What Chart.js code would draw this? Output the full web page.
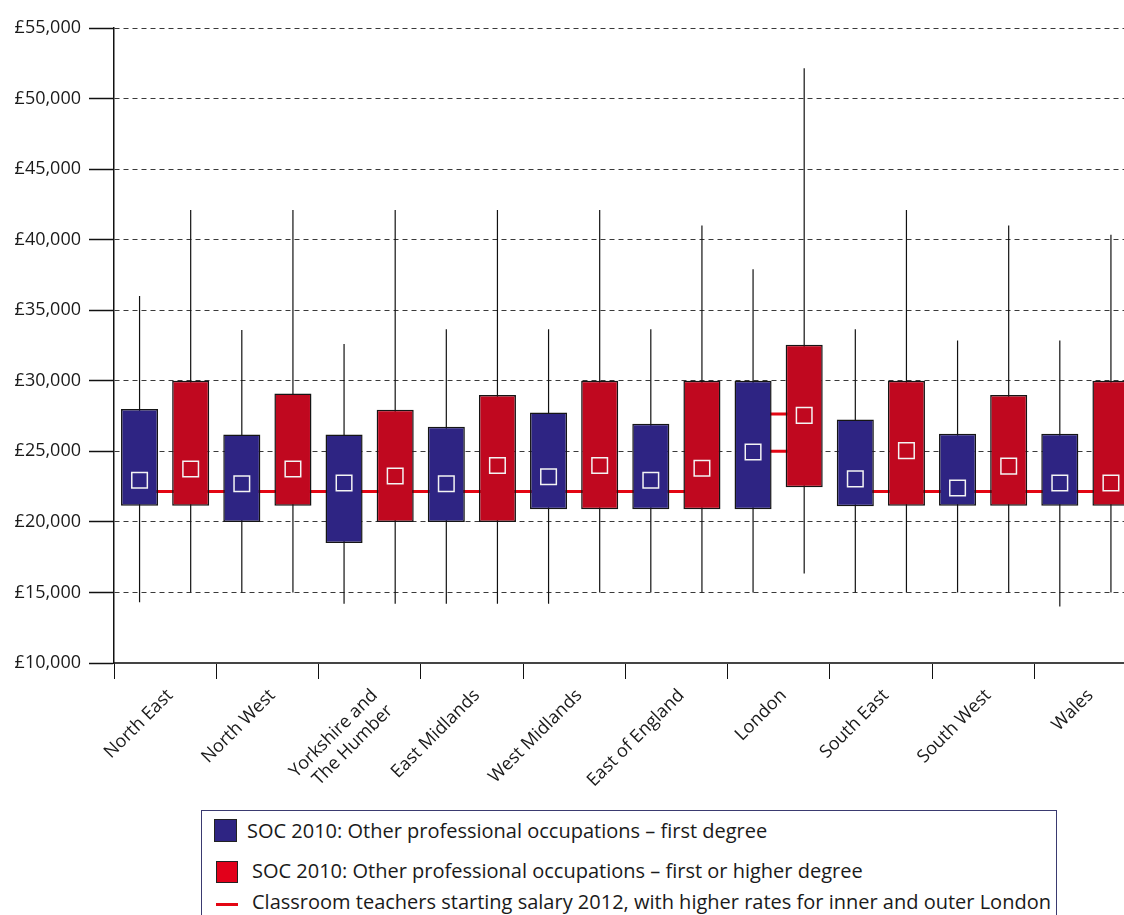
<!DOCTYPE html>
<html lang="en">
<head>
    <meta charset="UTF-8">
    <title>Salaries by region</title>
    <script src="https://cdn.jsdelivr.net/npm/chart.js@4"></script>
    <style>
        html, body { margin: 0; padding: 0; width: 1124px; height: 915px; overflow: hidden; background: #fff; }
        body { font-family: "Open Sans", sans-serif; color: #1a1a1a; position: relative; }
        #wrap { position: absolute; left: 0; top: 0; width: 1149px; height: 805px; }
        #legend { position: absolute; left: 201px; top: 810px; width: 856px; height: 140px; border: 1px solid #3a3a70; box-sizing: border-box; }
        #legend .sw { position: absolute; box-sizing: border-box; border: 1px solid #222; }
        #legend .txt { position: absolute; font-size: 20px; line-height: 26px; white-space: nowrap; }
        #legend .dash { position: absolute; height: 3px; }
    </style>
</head>
<body>
    <div id="wrap"><canvas id="chart" width="1149" height="805"></canvas></div>

    <div id="legend">
        <div class="sw" style="left:12px; top:8px; width:23px; height:23px; background:#2e2483;"></div>
        <div class="txt" style="left:45px; top:7px;">SOC 2010: Other professional occupations – first degree</div>
        <div class="sw" style="left:14px; top:50px; width:22px; height:22px; background:#e2001a;"></div>
        <div class="txt" style="left:50px; top:47px;">SOC 2010: Other professional occupations – first or higher degree</div>
        <div class="dash" style="left:14px; top:92px; width:22px; background:#e30613;"></div>
        <div class="txt" style="left:50px; top:78px;">Classroom teachers starting salary 2012, with higher rates for inner and outer London</div>
    </div>

    <script>
        // categories
        const regions = ['North East', 'North West', ['Yorkshire and', 'The Humber'], 'East Midlands',
            'West Midlands', 'East of England', 'London', 'South East', 'South West', 'Wales'];

        // first degree (blue)
        const blueMin  = [14300, 15000, 14200, 14200, 14200, 15000, 15000, 15000, 15000, 14000];
        const blueQ1   = [21150, 20000, 18500, 20000, 20900, 20900, 20900, 21100, 21150, 21150];
        const blueQ3   = [28000, 26200, 26200, 26750, 27750, 26950, 30000, 27250, 26250, 26250];
        const blueMax  = [36000, 33600, 32600, 33650, 33650, 33650, 37900, 33650, 32850, 32850];
        const blueMean = [22950, 22700, 22750, 22700, 23200, 22950, 24950, 23050, 22400, 22750];

        // first or higher degree (red)
        const redMin  = [15000, 15000, 14200, 14200, 15000, 15000, 16350, 15000, 15000, 15000];
        const redQ1   = [21150, 21150, 20000, 20000, 20900, 20900, 22450, 21150, 21150, 21150];
        const redQ3   = [30000, 29100, 27950, 29000, 30000, 30000, 32550, 30000, 29000, 30000];
        const redMax  = [42100, 42100, 42100, 42100, 42100, 41000, 52150, 42100, 41000, 40350];
        const redMean = [23750, 23750, 23250, 24000, 24000, 23800, 27550, 25050, 23950, 22750];

        // teachers starting salary 2012
        const teacherSalary      = [22150, 22150, 22150, 22150, 22150, 22150, null, 22150, 22150, 22150];
        const teacherOuterLondon = [null, null, null, null, null, null, 25000, null, null, null];
        const teacherInnerLondon = [null, null, null, null, null, null, 27650, null, null, null];

        // y axis ticks
        const yMin = 10000, yMax = 55000, yStep = 5000;

        const BLUE = '#2e2483';
        const RED = '#c0081f';
        const LINE_RED = '#e30613';
        const FONT = { family: '"Open Sans", sans-serif', size: 18 };

        // two boxes per category: blue in the left half, red in the right half
        const SLOT = { blue: -0.25, red: 0.25 };

        const boxPoints = (lo, hi, slot) => lo.map((v, i) => ({ x: i + SLOT[slot], y: [v, hi[i]] }));
        const slotPoints = (vals, slot) => vals.map((v, i) => ({ x: i + SLOT[slot], y: v }));
        const spanPoints = vals => vals.flatMap((v, i) => [{ x: i + SLOT.blue, y: v }, { x: i + SLOT.red, y: v }]);
        // vertical segment per category, broken by a null point
        const whiskerPoints = (lo, hi, slot) => lo.flatMap((v, i) => {
            const x = i + SLOT[slot];
            return [{ x: x, y: v }, { x: x, y: hi[i] }, { x: x, y: null }];
        });

        const whisker = (lo, hi, slot) => ({
            type: 'line', xAxisID: 'xt', data: whiskerPoints(lo, hi, slot),
            borderColor: '#111', borderWidth: 1.2, pointRadius: 0, spanGaps: false, order: 4
        });
        const box = (lo, hi, slot, color) => ({
            type: 'bar', xAxisID: 'xt', data: boxPoints(lo, hi, slot), grouped: false,
            backgroundColor: color, borderColor: '#151515', borderWidth: 1.5, borderSkipped: false,
            barPercentage: 0.725, categoryPercentage: 1, order: 2
        });
        const teacher = vals => ({
            type: 'line', xAxisID: 'xt', data: spanPoints(vals),
            borderColor: LINE_RED, borderWidth: 3, pointRadius: 0, spanGaps: false, order: 3
        });
        const mean = (vals, slot) => ({
            type: 'line', xAxisID: 'xt', data: slotPoints(vals, slot), showLine: false,
            pointStyle: 'rect', pointRadius: 11, pointBorderWidth: 1.5,
            pointBorderColor: '#f4f4f4', pointBackgroundColor: 'transparent', order: 1
        });

        Chart.defaults.font.family = FONT.family;

        new Chart(document.getElementById('chart').getContext('2d'), {
            data: {
                labels: regions,
                datasets: [
                    box(blueQ1, blueQ3, 'blue', BLUE),
                    box(redQ1, redQ3, 'red', RED),
                    whisker(blueMin, blueMax, 'blue'),
                    whisker(redMin, redMax, 'red'),
                    teacher(teacherSalary),
                    teacher(teacherOuterLondon),
                    teacher(teacherInnerLondon),
                    mean(blueMean, 'blue'),
                    mean(redMean, 'red')
                ]
            },
            options: {
                responsive: false,
                animation: false,
                layout: { padding: { top: 28, right: 0, bottom: 0, left: 0 } },
                plugins: { legend: { display: false }, tooltip: { enabled: false } },
                scales: {
                    x: {
                        type: 'category', offset: true,
                        grid: { offset: true, drawOnChartArea: false, drawTicks: true, tickLength: 16, tickColor: '#111', tickWidth: 1 },
                        border: { color: '#444', width: 2 },
                        ticks: { minRotation: 45, maxRotation: 45, autoSkip: false, color: '#1a1a1a', font: FONT, padding: 6, labelOffset: 5 },
                        afterFit: s => { s.height = 142; }
                    },
                    xt: { type: 'linear', display: false, min: -0.5, max: 9.5, offset: false },
                    y: {
                        min: yMin, max: yMax,
                        ticks: {
                            stepSize: yStep, padding: 8, color: '#1a1a1a', font: FONT,
                            callback: v => '£' + v.toLocaleString('en-GB')
                        },
                        grid: { color: '#3a3a3a', lineWidth: 1, tickLength: 25, tickColor: '#111', tickWidth: 1.5, tickBorderDash: [] },
                        border: { color: '#111', width: 1.5, dash: [5, 4] },
                        afterFit: s => { s.width = 114; }
                    }
                }
            }
        });
    </script>
</body>
</html>
